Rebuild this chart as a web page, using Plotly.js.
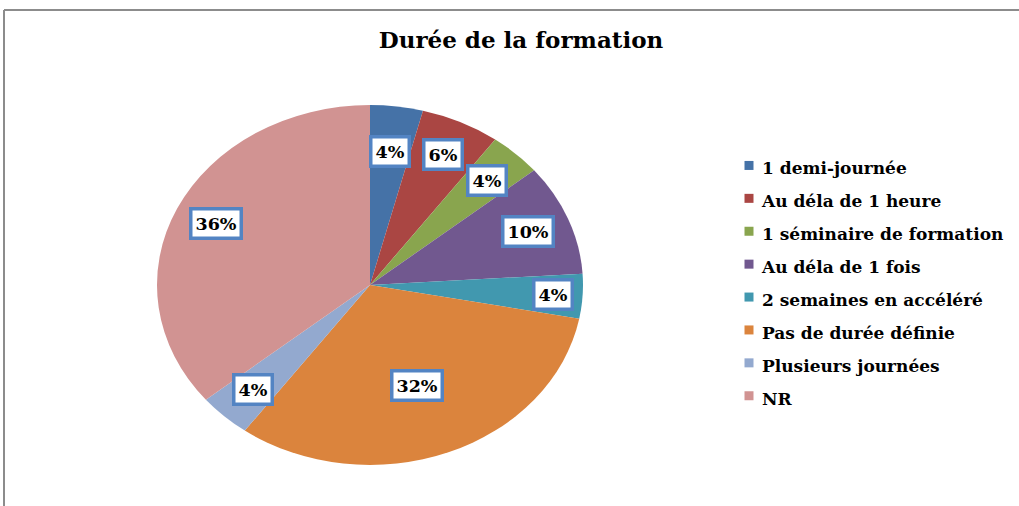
<!DOCTYPE html>
<html>
<head>
<meta charset="utf-8">
<script src="https://cdn.plot.ly/plotly-3.0.1.min.js"></script>
<style>
  html, body { margin: 0; padding: 0; background: #fff; }
  #chart { width: 1019px; height: 506px; }
</style>
</head>
<body>
<div id="chart"></div>
<script>
// ---- data ----
const categories = [
  "1 demi-journée",
  "Au déla de 1 heure",
  "1 séminaire de formation",
  "Au déla de 1 fois",
  "2 semaines en accéléré",
  "Pas de durée définie",
  "Plusieurs journées",
  "NR"
];
const values = [4, 6, 4, 10, 4, 32, 4, 36];
const colors = ["#4572A7", "#AA4643", "#89A54E", "#71588F", "#4198AF", "#DB843D", "#93A9CF", "#D19392"];
const chartTitle = "Durée de la formation";

// ---- layout settings ----
const W = 1019, H = 506;
const FONT = "DejaVu Serif";
const cxPx = 370, cyPx = 285, ry = 180, rx = 213;   // elliptical pie like the original
const domX = [(cxPx - ry) / W, (cxPx + ry) / W];
const domY = [1 - (cyPx + ry) / H, 1 - (cyPx - ry) / H];
const labelRadius = 0.8;
const labelRadiusOverride = {0: 0.75, 4: 0.86, 5: 0.6};

const total = values.reduce((a, b) => a + b, 0);
const legendLabels = categories.map(c => '<span style="font-size:17px">' + c + '</span>');

// label boxes placed at each slice's mid-angle (clockwise from 12 o'clock)
const annotations = [];
let cum = 0;
values.forEach((v, i) => {
  const mid = (cum + v / 2) / total * 2 * Math.PI;
  cum += v;
  const r = (labelRadiusOverride[i] !== undefined) ? labelRadiusOverride[i] : labelRadius;
  const px = cxPx + r * rx * Math.sin(mid);
  const py = cyPx - r * ry * Math.cos(mid);
  annotations.push({
    xref: "paper", yref: "paper",
    x: px / W, y: 1 - py / H,
    xanchor: "center", yanchor: "middle",
    text: Math.round(v / total * 100) + "%",
    showarrow: false,
    font: {family: FONT, size: 17.5, color: "#000", weight: "bold"},
    bgcolor: "#ffffff",
    bordercolor: "#5384C3",
    borderwidth: 3.5,
    borderpad: 3
  });
});

const trace = {
  type: "pie",
  labels: legendLabels,
  values: values,
  sort: false,
  direction: "clockwise",
  rotation: 0,
  textinfo: "none",
  hoverinfo: "skip",
  marker: {colors: colors, line: {width: 0}},
  domain: {x: domX, y: domY}
};

const layout = {
  width: W, height: H,
  margin: {l: 0, r: 0, t: 0, b: 0},
  paper_bgcolor: "#fff",
  title: {
    text: chartTitle,
    font: {family: FONT, size: 23, color: "#000", weight: "bold"},
    x: 521 / W, xanchor: "center",
    y: 1 - 40 / H, yanchor: "middle"
  },
  showlegend: true,
  legend: {
    x: 722 / W, xanchor: "left",
    y: 1 - 144 / H, yanchor: "top",
    font: {family: FONT, size: 23, color: "#000", weight: "bold"},
    bgcolor: "rgba(0,0,0,0)"
  },
  annotations: annotations,
  shapes: [
    {type: "line", xref: "paper", yref: "paper", x0: 4 / W, x1: 1, y0: 1 - 10 / H, y1: 1 - 10 / H, line: {color: "#8c8c8c", width: 2}},
    {type: "line", xref: "paper", yref: "paper", x0: 4 / W, x1: 4 / W, y0: 0, y1: 1 - 10 / H, line: {color: "#8c8c8c", width: 2}}
  ]
};

Plotly.newPlot("chart", [trace], layout, {displayModeBar: false, staticPlot: true}).then(() => {
  const pl = document.querySelector(".pielayer");
  if (pl) {
    const s = rx / ry;
    pl.setAttribute("transform", `translate(${cxPx},${cyPx}) scale(${s},1) translate(${-cxPx},${-cyPx})`);
  }
  document.querySelectorAll(".legend .legendpoints path").forEach(p => {
    p.setAttribute("transform", "translate(27,0) scale(0.75)");
  });
});
</script>
</body>
</html>
